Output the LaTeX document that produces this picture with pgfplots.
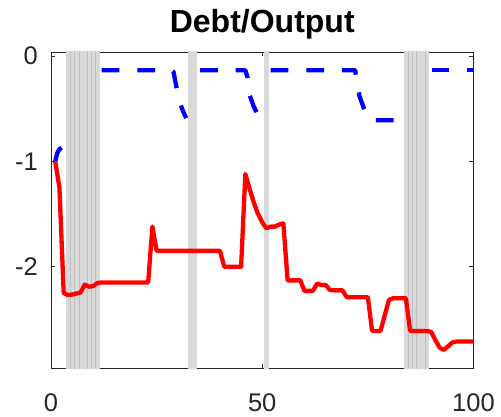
\documentclass[border=0pt]{standalone}
\usepackage{fontspec}
\setmainfont{Liberation Sans}
\usepackage{pgfplots}
\pgfplotsset{compat=1.18}
\definecolor{band}{gray}{0.85}
\definecolor{bandline}{gray}{0.75}
\definecolor{axgray}{gray}{0.15}
\begin{document}
\begin{tikzpicture}
\path (0,0) rectangle (501pt,416pt);
\begin{axis}[
  at={(51pt,47.7pt)}, anchor=south west,
  scale only axis, width=422.5pt, height=316.3pt,
  xmin=0, xmax=100, ymin=-2.965, ymax=0.038,
  xtick={0,50,100}, ytick={-2,-1,0},
  xticklabels={0,50,100}, yticklabels={-2,-1,0},
  tick align=inside, major tick length=4.5pt,
  axis line style={axgray, line width=0.8pt},
  tick style={axgray, line width=0.8pt},
  ticklabel style={font=\fontsize{25.5}{25.5}\selectfont, text=axgray},
  xticklabel style={anchor=base, inner sep=0pt, yshift=-43.4pt},
  yticklabel style={anchor=east, inner sep=0pt, xshift=-13pt},
  title={\fontsize{32}{32}\selectfont\bfseries Debt/Output},
  title style={at={(0.5,1)}, anchor=base, yshift=13.7pt, inner sep=0pt},
]
% recession shading
\addplot[fill=band, draw=none] coordinates {(3.5,-3) (3.5,0.1) (11.5,0.1) (11.5,-3)} --cycle;
\addplot[fill=band, draw=none] coordinates {(32.5,-3) (32.5,0.1) (34.6,0.1) (34.6,-3)} --cycle;
\addplot[fill=band, draw=none] coordinates {(50.5,-3) (50.5,0.1) (51.5,0.1) (51.5,-3)} --cycle;
\addplot[fill=band, draw=none] coordinates {(83.5,-3) (83.5,0.1) (89.5,0.1) (89.5,-3)} --cycle;
\addplot[bandline, line width=0.6pt] coordinates {(4.5,-3) (4.5,0.1)};
\addplot[bandline, line width=0.6pt] coordinates {(5.6,-3) (5.6,0.1)};
\addplot[bandline, line width=0.6pt] coordinates {(6.7,-3) (6.7,0.1)};
\addplot[bandline, line width=0.6pt] coordinates {(8.6,-3) (8.6,0.1)};
\addplot[bandline, line width=0.6pt] coordinates {(9.5,-3) (9.5,0.1)};
\addplot[bandline, line width=0.6pt] coordinates {(10.6,-3) (10.6,0.1)};
\addplot[bandline, line width=0.6pt] coordinates {(84.6,-3) (84.6,0.1)};
\addplot[bandline, line width=0.6pt] coordinates {(85.5,-3) (85.5,0.1)};
\addplot[bandline, line width=0.6pt] coordinates {(86.4,-3) (86.4,0.1)};
\addplot[bandline, line width=0.6pt] coordinates {(88.6,-3) (88.6,0.1)};
% blue dashed series, broken in crisis periods
\pgfplotsset{bluedash/.style={blue, line width=4.3pt, line cap=butt, line join=round,
  dash pattern=on 17.7pt off 17.9pt}}
\addplot[bluedash] coordinates {(1,-1.0) (1.5,-0.92) (2,-0.885) (2.5,-0.87)};
\addplot[bluedash] coordinates {(12,-0.136) (28.5,-0.136) (29,-0.15) (30,-0.36) (31,-0.5) (32,-0.59)};
\addplot[bluedash] coordinates {(35.3,-0.136) (46,-0.136) (46.5,-0.2) (47,-0.37) (48,-0.48) (49,-0.56) (50,-0.6)};
\addplot[bluedash] coordinates {(52,-0.136) (72,-0.136) (73,-0.38) (74,-0.49) (75,-0.58) (76,-0.61) (83,-0.61)};
\addplot[bluedash] coordinates {(90.1,-0.136) (100,-0.136)};
% red series
\addplot[red, line width=4.3pt, line join=round] coordinates {
(1,-1.00) (2,-1.25) (3,-2.25) (4,-2.27) (5,-2.265) (6,-2.255) (7,-2.245) (8,-2.17)
(9,-2.19) (10,-2.185) (11,-2.155) (12,-2.15) (13,-2.15) (14,-2.15) (15,-2.15)
(16,-2.15) (17,-2.15) (18,-2.15) (19,-2.15) (20,-2.15) (21,-2.15) (22,-2.15)
(23,-2.15) (24,-1.62) (25,-1.85) (26,-1.85) (27,-1.85) (28,-1.85) (29,-1.85)
(30,-1.85) (31,-1.85) (32,-1.85) (33,-1.85) (34,-1.85) (35,-1.85) (36,-1.85)
(37,-1.85) (38,-1.85) (39,-1.85) (40,-1.85) (41,-2.0) (42,-2.0) (43,-2.0)
(44,-2.0) (45,-2.0) (46,-1.12) (47,-1.26) (48,-1.39) (49,-1.50) (50,-1.58)
(51,-1.635) (52,-1.62) (53,-1.62) (54,-1.60) (55,-1.59) (56,-2.13) (57,-2.13)
(58,-2.13) (59,-2.13) (60,-2.23) (61,-2.23) (62,-2.23) (63,-2.16) (64,-2.175)
(65,-2.175) (66,-2.22) (67,-2.225) (68,-2.225) (69,-2.225) (70,-2.29) (71,-2.29)
(72,-2.29) (73,-2.29) (74,-2.29) (75,-2.29) (76,-2.61) (77,-2.61) (78,-2.61)
(79,-2.46) (80,-2.315) (81,-2.30) (82,-2.30) (83,-2.30) (84,-2.30) (85,-2.61)
(86,-2.61) (87,-2.61) (88,-2.61) (89,-2.61) (90,-2.62) (91,-2.70) (92,-2.77)
(93,-2.79) (94,-2.755) (95,-2.72) (96,-2.71) (97,-2.71) (98,-2.71) (99,-2.71)
(100,-2.71)};
\end{axis}
\end{tikzpicture}
\end{document}
